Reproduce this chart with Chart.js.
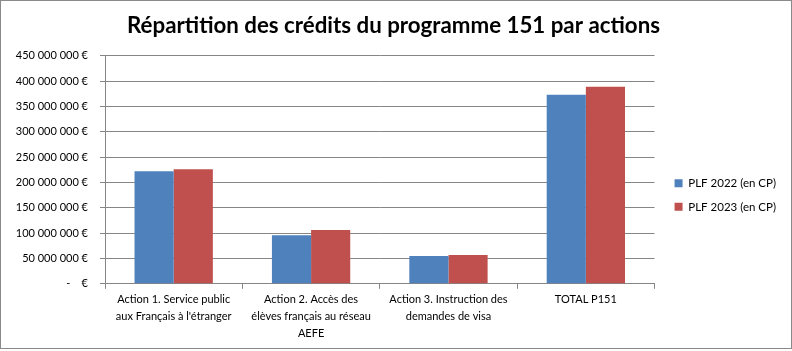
<!DOCTYPE html>
<html>
<head>
<meta charset="utf-8">
<script src="https://cdn.jsdelivr.net/npm/chart.js@4"></script>
<style>
html,body{margin:0;padding:0;background:#fff;}
#wrap{position:absolute;left:0;top:0;width:790px;height:347px;border:1px solid #8a8a8a;background:#fff;}
canvas{display:block;}
</style>
</head>
<body>
<div id="wrap"><canvas id="c" width="790" height="347"></canvas></div>
<script>
const categories = [
  ["Action 1. Service public", "aux Français à l'étranger"],
  ["Action 2. Accès des", "élèves français au réseau", "AEFE"],
  ["Action 3. Instruction des", "demandes de visa"],
  "TOTAL P151"
];
const seriesNames = ["PLF 2022 (en CP)", "PLF 2023 (en CP)"];
const plf2022 = [222000000, 96000000, 55000000, 373000000];
const plf2023 = [226000000, 106000000, 57000000, 389000000];
const yTicks = [0, 50000000, 100000000, 150000000, 200000000, 250000000, 300000000, 350000000, 400000000, 450000000];

function fmt(v){
  if (v === 0) return "-    €";
  return v.toString().replace(/\B(?=(\d{3})+(?!\d))/g, " ") + " €";
}

// widen the legend box a little and push its items right, to leave a gap after the plot
const legendGap = {
  id: 'legendGap',
  beforeLayout(chart) {
    const lg = chart.legend;
    if (lg && !lg._gapWrapped) {
      const f = lg.fit.bind(lg);
      lg.fit = function () { f(); this.width += 8; };
      lg._gapWrapped = true;
    }
  },
  afterLayout(chart) {
    if (chart.legend) chart.legend.left += 8;
  }
};

const font = "Lato, 'Open Sans', sans-serif";
new Chart(document.getElementById('c'), {
  type: 'bar',
  data: {
    labels: categories,
    datasets: [
      {label: seriesNames[0], data: plf2022, backgroundColor: '#4f81bd', categoryPercentage: 0.57, barPercentage: 1.0},
      {label: seriesNames[1], data: plf2023, backgroundColor: '#c0504d', categoryPercentage: 0.57, barPercentage: 1.0}
    ]
  },
  plugins: [legendGap],
  options: {
    responsive: false,
    animation: false,
    layout: {padding: {left: 0, right: 5, top: 8, bottom: 4}},
    plugins: {
      title: {display: true, text: "Répartition des crédits du programme 151 par actions",
        color: '#000', font: {family: font, size: 22.3, weight: 'bold'}, padding: {top: 3, bottom: 17}},
      legend: {position: 'right', align: 'center',
        title: {display: true, text: ' ', font: {size: 11}, padding: {top: 12, bottom: 12}},
        labels: {boxWidth: 8, boxHeight: 8, color: '#000', font: {family: font, size: 11.5}, padding: 12}},
      tooltip: {enabled: false}
    },
    scales: {
      x: {
        grid: {display: true, drawOnChartArea: false, drawTicks: true, tickLength: 5, color: '#868686', offset: true},
        border: {color: '#868686'},
        ticks: {color: '#000', font: {family: font, size: 11, lineHeight: 1.55}, maxRotation: 0, autoSkip: false, padding: 2}
      },
      y: {
        min: 0, max: 450000000,
        afterBuildTicks: (s) => { s.ticks = yTicks.map(v => ({value: v})); },
        grid: {color: '#868686', tickLength: 5},
        border: {color: '#868686'},
        ticks: {color: '#000', font: {family: font, size: 11}, callback: (v) => fmt(v), padding: 12},
        afterFit: (s) => { s.width = 104; }
      }
    }
  }
});
</script>
</body>
</html>
